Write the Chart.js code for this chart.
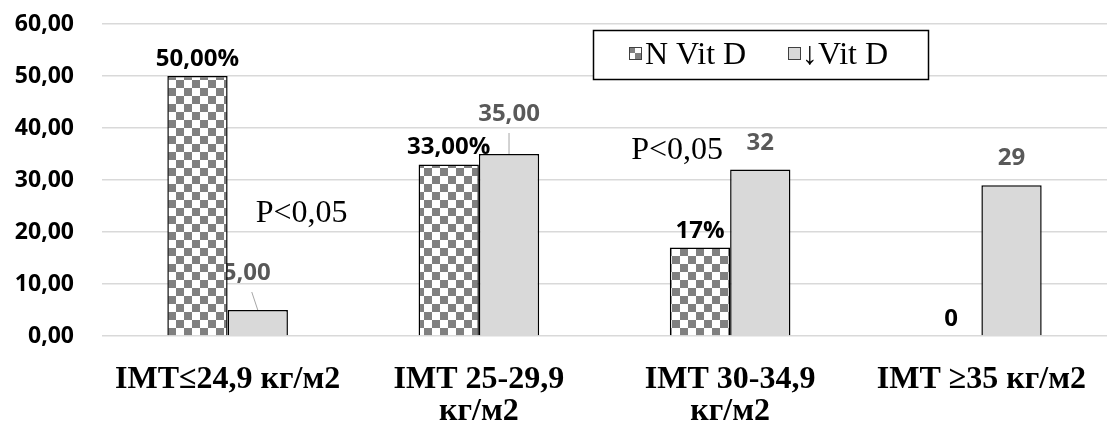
<!DOCTYPE html>
<html>
<head>
<meta charset="utf-8">
<script src="https://cdn.jsdelivr.net/npm/chart.js@4.4.0/dist/chart.umd.min.js"></script>
<style>
  html, body { margin: 0; padding: 0; background: #fff; }
</style>
</head>
<body>
<canvas id="chart" width="1107" height="427"></canvas>
<script>
// data
const categories = [['IMT≤24,9 кг/м2'], ['IMT 25-29,9', 'кг/м2'], ['IMT 30-34,9', 'кг/м2'], ['IMT ≥35 кг/м2']];
const seriesNames = ['N Vit D', '↓Vit D'];
const normalVitD = [50, 33, 17, 0];
const lowVitD = [5, 35, 32, 29];
const normalLabels = ['50,00%', '33,00%', '17%', '0'];
const lowLabels = ['5,00', '35,00', '32', '29'];
const yTickLabels = ['0,00', '10,00', '20,00', '30,00', '40,00', '50,00', '60,00'];
const pNotes = ['P<0,05', 'P<0,05'];

const canvas = document.getElementById('chart');
const ctx = canvas.getContext('2d');

// checkerboard fill like the excel pattern
function checker(size) {
  const c = document.createElement('canvas');
  c.width = c.height = size * 2;
  const g = c.getContext('2d');
  g.fillStyle = '#fff';
  g.fillRect(0, 0, size * 2, size * 2);
  g.fillStyle = '#808080';
  g.fillRect(0, 0, size, size);
  g.fillRect(size, size, size, size);
  return ctx.createPattern(c, 'repeat');
}
const checkerFill = checker(8);

const sans = '"Open Sans", sans-serif';
const labelFont = 'bold 24px ' + sans;
const serif = '"Liberation Serif", "Times New Roman", serif';

function drawLabels(chart, dsIndex) {
  const c = chart.ctx;
  const meta = chart.getDatasetMeta(dsIndex);
  const texts = dsIndex === 0 ? normalLabels : lowLabels;
  c.save();
  c.font = labelFont;
  c.textAlign = 'center';
  c.textBaseline = 'alphabetic';
  meta.data.forEach((bar, i) => {
    let x = bar.x;
    let y = bar.y - (dsIndex === 0 ? 10 : 20);
    // two labels of the second series were pulled up with a leader line
    if (dsIndex === 1 && i < 2) {
      const dx = i === 0 ? -11 : 0;
      const lift = i === 0 ? 30 : 33;
      x = bar.x + dx;
      y = bar.y - lift;
      c.strokeStyle = '#a6a6a6';
      c.lineWidth = 1;
      c.beginPath();
      c.moveTo(x + (i === 0 ? 5 : 0), y + 12);
      c.lineTo(bar.x, bar.y);
      c.stroke();
    }
    c.fillStyle = dsIndex === 0 ? '#000' : '#595959';
    c.fillText(texts[i], x, y);
  });
  c.restore();
}

const extras = {
  id: 'extras',
  beforeDatasetsDraw(chart) { drawLabels(chart, 1); },
  afterDatasetsDraw(chart) { drawLabels(chart, 0); },
  afterDraw(chart) {
    const c = chart.ctx;
    const xs = chart.scales.x, ys = chart.scales.y;

    // p-value notes
    c.save();
    c.font = '32px ' + serif;
    c.fillStyle = '#000';
    c.textBaseline = 'alphabetic';
    c.fillText(pNotes[0], xs.getPixelForValue(0) + 28, ys.getPixelForValue(21.9));
    c.fillText(pNotes[1], xs.getPixelForValue(2) - 99, ys.getPixelForValue(34));

    // legend box
    c.fillStyle = '#fff';
    c.fillRect(593, 30, 335, 49);
    c.strokeStyle = '#000';
    c.lineWidth = 1.5;
    c.strokeRect(593.5, 30.5, 335, 49);

    // swatch 1
    c.fillStyle = '#fff';
    c.fillRect(629, 47, 13, 13);
    c.fillStyle = '#808080';
    c.fillRect(629, 47, 6, 6);
    c.fillRect(635, 53, 7, 7);
    c.strokeStyle = '#404040';
    c.lineWidth = 1;
    c.strokeRect(629.5, 47.5, 12, 12);
    // swatch 2
    c.fillStyle = '#d9d9d9';
    c.fillRect(788, 47, 13, 13);
    c.strokeRect(788.5, 47.5, 12, 12);

    c.font = '32px ' + serif;
    c.fillStyle = '#000';
    c.fillText(seriesNames[0], 645, 64);
    c.fillText(seriesNames[1], 802, 64);
    c.restore();
  }
};

function draw() {
  new Chart(ctx, {
    type: 'bar',
    data: {
      labels: categories,
      datasets: [{
        label: seriesNames[0],
        data: normalVitD,
        backgroundColor: checkerFill,
        borderColor: '#000',
        borderWidth: 1.5,
        categoryPercentage: 0.48,
        barPercentage: 1
      }, {
        label: seriesNames[1],
        data: lowVitD,
        backgroundColor: '#d9d9d9',
        borderColor: '#000',
        borderWidth: 1.5,
        categoryPercentage: 0.48,
        barPercentage: 1
      }]
    },
    options: {
      responsive: false,
      devicePixelRatio: 1,
      animation: false,
      layout: { padding: { top: 24, right: 0, left: 0, bottom: 0 } },
      plugins: {
        legend: { display: false },
        tooltip: { enabled: false }
      },
      scales: {
        x: {
          grid: { display: false },
          border: { display: false },
          ticks: {
            color: '#000',
            padding: 20,
            maxRotation: 0,
            autoSkip: false,
            font: { family: serif, size: 32, weight: 'bold', lineHeight: 1 }
          },
          afterFit(s) { s.height = 91; }
        },
        y: {
          min: 0,
          max: 60,
          border: { display: false },
          // tick marks are invisible, they only push the labels left
          grid: { color: '#d9d9d9', lineWidth: 1.5, drawTicks: true, tickLength: 28, tickColor: 'rgba(0,0,0,0)' },
          ticks: {
            stepSize: 10,
            color: '#000',
            padding: 0,
            font: { family: sans, size: 23, weight: 'bold' },
            callback: (v, i) => yTickLabels[i]
          },
          afterFit(s) { s.width = 102; }
        }
      }
    },
    plugins: [extras]
  });
}

Promise.all([
  document.fonts.load('bold 24px "Open Sans"'),
  document.fonts.load('bold 32px "Liberation Serif"'),
  document.fonts.load('32px "Liberation Serif"')
]).then(draw, draw);
</script>
</body>
</html>
